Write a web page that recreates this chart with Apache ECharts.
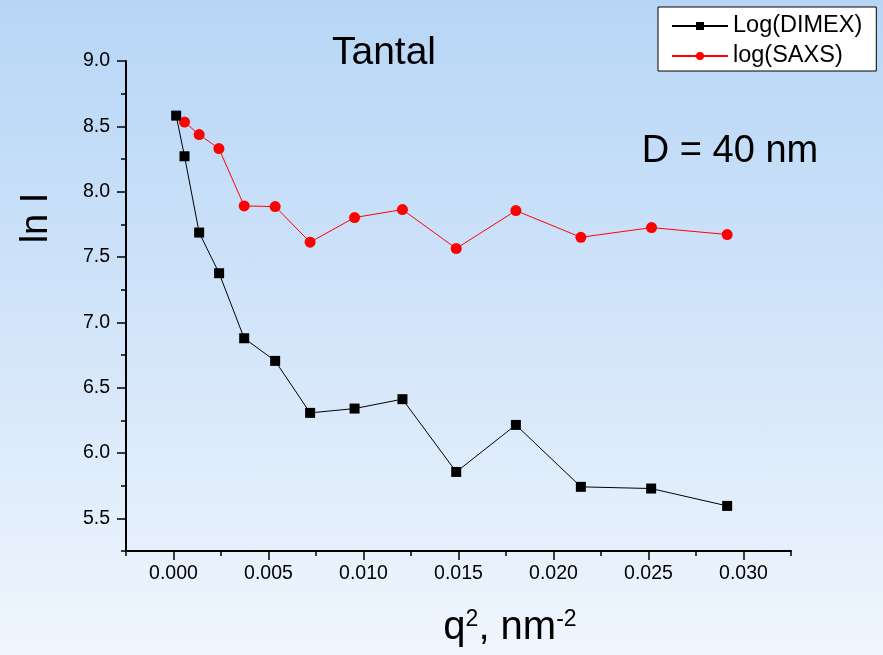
<!DOCTYPE html>
<html>
<head>
<meta charset="utf-8">
<script src="https://cdn.jsdelivr.net/npm/echarts@6/dist/echarts.min.js"></script>
<style>
html,body{margin:0;padding:0;}
body{background:linear-gradient(to bottom,#b7d6f6 0%,#cfe3f9 45%,#f0f6fd 100%);}
#c{width:883px;height:655px;}
</style>
</head>
<body>
<div id="c"></div>
<script>
const dimexX = [0.00014,0.00058,0.00135,0.0024,0.00372,0.00535,0.00719,0.00953,0.01205,0.01488,0.01802,0.02144,0.02514,0.02914];
const dimexY = [8.582,8.271,7.687,7.376,6.878,6.705,6.307,6.340,6.412,5.855,6.215,5.741,5.728,5.595];
const saxsX = [0.00058,0.00135,0.00239,0.00372,0.00535,0.00719,0.00953,0.01205,0.01488,0.01802,0.02144,0.02516,0.02914];
const saxsY = [8.533,8.437,8.330,7.891,7.886,7.613,7.802,7.863,7.565,7.855,7.651,7.725,7.672];
const xMajor = [0,0.005,0.010,0.015,0.020,0.025,0.030];
const xMinor = [-0.0025,0.0025,0.0075,0.0125,0.0175,0.0225,0.0275,0.0325];
const yMajor = [5.5,6.0,6.5,7.0,7.5,8.0,8.5,9.0];
const yMinor = [5.25,5.75,6.25,6.75,7.25,7.75,8.25,8.75];
const seriesNames = ['Log(DIMEX)','log(SAXS)'];

const FONT = '"Liberation Sans", Arial, sans-serif';
const chart = echarts.init(document.getElementById('c'), null, {renderer:'canvas'});
const gridPos = {left:126, top:61, right:92, bottom:104};
const axisLine = {show:true, onZero:false, lineStyle:{color:'#000', width:2}};
const option = {
  backgroundColor:'transparent',
  animation:false,
  grid:[Object.assign({}, gridPos), Object.assign({}, gridPos)],
  xAxis:[
    {type:'value', gridIndex:0, min:-0.0025, max:0.0325,
     axisLine:axisLine, splitLine:{show:false},
     axisTick:{show:true, customValues:xMajor, length:9, lineStyle:{color:'#000', width:1.5}},
     axisLabel:{customValues:xMajor, formatter:v=>v.toFixed(3), color:'#000', fontFamily:FONT, fontSize:19.5, margin:13}},
    {type:'value', gridIndex:1, min:-0.0025, max:0.0325,
     axisLine:{show:false, onZero:false}, splitLine:{show:false},
     axisTick:{show:true, customValues:xMinor, length:5, lineStyle:{color:'#000', width:1.5}},
     axisLabel:{show:false}}
  ],
  yAxis:[
    {type:'value', gridIndex:0, min:5.25, max:9.0,
     axisLine:axisLine, splitLine:{show:false},
     axisTick:{show:true, customValues:yMajor, length:9, lineStyle:{color:'#000', width:1.5}},
     axisLabel:{customValues:yMajor, formatter:v=>v.toFixed(1), color:'#000', fontFamily:FONT, fontSize:19.5, margin:16}},
    {type:'value', gridIndex:1, min:5.25, max:9.0,
     axisLine:{show:false, onZero:false}, splitLine:{show:false},
     axisTick:{show:true, customValues:yMinor, length:5, lineStyle:{color:'#000', width:1.5}},
     axisLabel:{show:false}}
  ],
  legend:{
    orient:'vertical', left:658, top:7,
    backgroundColor:'#fff', borderColor:'#000', borderWidth:1,
    padding:[7,14,3,13], itemGap:6, itemWidth:56, itemHeight:10,
    textStyle:{fontFamily:FONT, fontSize:23.5, color:'#000'},
    data:seriesNames
  },
  series:[
    {name:seriesNames[0], type:'line', xAxisIndex:0, yAxisIndex:0,
     data:dimexX.map((x,i)=>[x,dimexY[i]]),
     symbol:'rect', symbolSize:10,
     itemStyle:{color:'#000'}, lineStyle:{color:'#000', width:1}, z:3},
    {name:seriesNames[1], type:'line', xAxisIndex:0, yAxisIndex:0,
     data:saxsX.map((x,i)=>[x,saxsY[i]]),
     symbol:'circle', symbolSize:11,
     itemStyle:{color:'#ff0000'}, lineStyle:{color:'#ff0000', width:1}, z:2}
  ],
  graphic:[
    {type:'text', x:384, y:53, style:{text:'Tantal', font:'39px '+FONT, fill:'#000', textAlign:'center', textVerticalAlign:'middle'}},
    {type:'text', x:730, y:152, style:{text:'D = 40 nm', font:'38px '+FONT, fill:'#000', textAlign:'center', textVerticalAlign:'middle'}},
    {type:'text', x:37, y:218, rotation:Math.PI/2, style:{text:'ln I', font:'38px '+FONT, fill:'#000', textAlign:'center', textVerticalAlign:'middle'}},
    {type:'text', x:510, y:628, style:{
      text:'{b|q}{s|2}{b|, nm}{s|-2}', textAlign:'center', textVerticalAlign:'middle',
      rich:{b:{fontFamily:FONT, fontSize:40, fill:'#000', color:'#000', verticalAlign:'bottom'},
            s:{fontFamily:FONT, fontSize:23, fill:'#000', color:'#000', verticalAlign:'top'}}}}
  ]
};
chart.setOption(option);
</script>
</body>
</html>
